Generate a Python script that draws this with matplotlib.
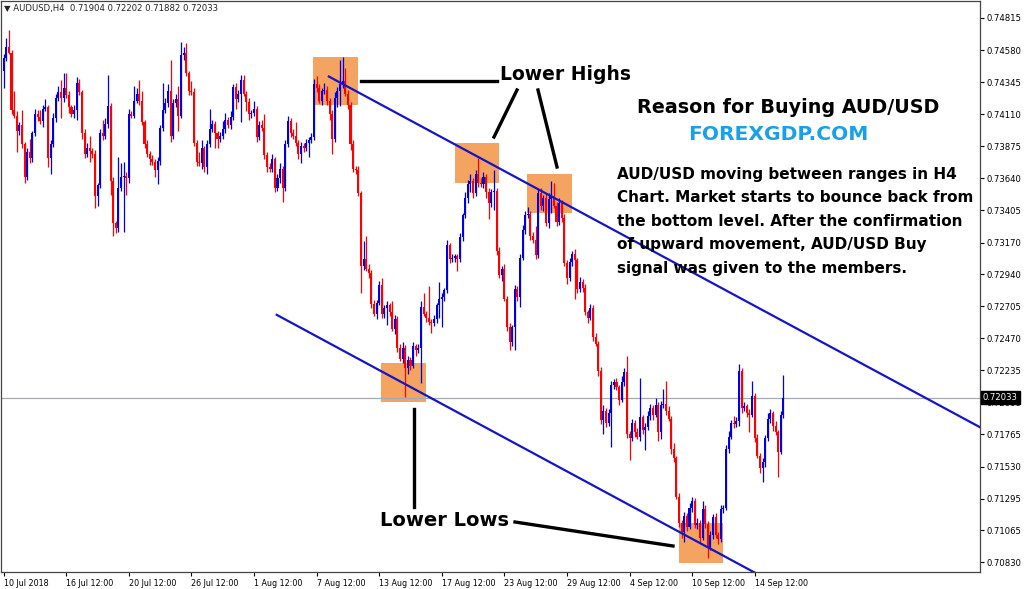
import numpy as np
import matplotlib.pyplot as plt
from matplotlib.lines import Line2D
from matplotlib.patches import Rectangle

plt.rcParams['font.family'] = 'DejaVu Sans'

# AUDUSD H4 candles (close prices, first open)
first_open = 0.7443
closes = [
    0.7452, 0.7460, 0.7456, 0.7414, 0.7410, 0.7399, 0.7403, 0.7389, 0.7365, 0.7383,
    0.7379, 0.7397, 0.7411, 0.7409, 0.7406, 0.7415, 0.7416, 0.7379, 0.7389, 0.7408,
    0.7423, 0.7427, 0.7423, 0.7430, 0.7425, 0.7416, 0.7411, 0.7414, 0.7434, 0.7427,
    0.7397, 0.7382, 0.7386, 0.7384, 0.7382, 0.7351, 0.7359, 0.7397, 0.7395, 0.7404,
    0.7417, 0.7362, 0.7331, 0.7328, 0.7357, 0.7365, 0.7366, 0.7364, 0.7411, 0.7410,
    0.7421, 0.7426, 0.7421, 0.7405, 0.7389, 0.7382, 0.7378, 0.7376, 0.7370, 0.7377,
    0.7401, 0.7414, 0.7419, 0.7428, 0.7395, 0.7419, 0.7422, 0.7410, 0.7454, 0.7456,
    0.7441, 0.7428, 0.7427, 0.7390, 0.7376, 0.7375, 0.7386, 0.7372, 0.7389, 0.7400,
    0.7404, 0.7397, 0.7393, 0.7395, 0.7400, 0.7407, 0.7403, 0.7409, 0.7431, 0.7422,
    0.7426, 0.7436, 0.7426, 0.7420, 0.7411, 0.7412, 0.7415, 0.7394, 0.7403, 0.7401,
    0.7381, 0.7372, 0.7371, 0.7378, 0.7357, 0.7364, 0.7371, 0.7357, 0.7389, 0.7406,
    0.7397, 0.7395, 0.7390, 0.7382, 0.7388, 0.7386, 0.7390, 0.7392, 0.7394, 0.7433,
    0.7430, 0.7421, 0.7428, 0.7429, 0.7421, 0.7411, 0.7393, 0.7423, 0.7428, 0.7433,
    0.7435, 0.7426, 0.7418, 0.7389, 0.7371, 0.7370, 0.7353, 0.7300, 0.7305, 0.7298,
    0.7295, 0.7272, 0.7265, 0.7273, 0.7286, 0.7265, 0.7269, 0.7271, 0.7266, 0.7254,
    0.7261, 0.7240, 0.7232, 0.7240, 0.7225, 0.7231, 0.7227, 0.7241, 0.7238, 0.7240,
    0.7270, 0.7265, 0.7262, 0.7259, 0.7258, 0.7261, 0.7271, 0.7276, 0.7277, 0.7282,
    0.7315, 0.7305, 0.7306, 0.7307, 0.7305, 0.7321, 0.7337, 0.7350, 0.7360, 0.7362,
    0.7353, 0.7367, 0.7361, 0.7360, 0.7365, 0.7354, 0.7346, 0.7354, 0.7355, 0.7311,
    0.7293, 0.7298, 0.7276, 0.7255, 0.7244, 0.7255, 0.7283, 0.7277, 0.7306, 0.7326,
    0.7337, 0.7338, 0.7322, 0.7319, 0.7308, 0.7353, 0.7344, 0.7350, 0.7331, 0.7349,
    0.7351, 0.7344, 0.7332, 0.7346, 0.7335, 0.7302, 0.7291, 0.7303, 0.7309, 0.7304,
    0.7283, 0.7288, 0.7284, 0.7266, 0.7262, 0.7269, 0.7248, 0.7243, 0.7223, 0.7187,
    0.7194, 0.7185, 0.7192, 0.7213, 0.7215, 0.7211, 0.7202, 0.7215, 0.7222, 0.7177,
    0.7174, 0.7185, 0.7178, 0.7175, 0.7189, 0.7180, 0.7182, 0.7190, 0.7196, 0.7191,
    0.7198, 0.7178, 0.7198, 0.7199, 0.7194, 0.7188, 0.7166, 0.7159, 0.7131, 0.7112,
    0.7105, 0.7117, 0.7109, 0.7123, 0.7128, 0.7110, 0.7112, 0.7101, 0.7122, 0.7111,
    0.7094, 0.7103, 0.7116, 0.7103, 0.7100, 0.7122, 0.7123, 0.7166, 0.7175, 0.7185,
    0.7184, 0.7186, 0.7223, 0.7196, 0.7197, 0.7192, 0.7191, 0.7205, 0.7174, 0.7161,
    0.7152, 0.7156, 0.7174, 0.7188, 0.7192, 0.7183, 0.7178, 0.7164, 0.71904, 0.72033,
]
# wick lengths in pips above / below the candle body
upper_wick = [
    3, 7, 13, 2, 14, 3, 2, 11, 2, 3, 10, 2, 4, 3, 5, 3, 6, 2, 3, 4,
    3, 5, 9, 11, 11, 3, 2, 4, 4, 3, 2, 3, 4, 9, 2, 3, 2, 3, 10, 4,
    23, 2, 3, 2, 23, 10, 10, 3, 4, 2, 11, 4, 10, 7, 2, 3, 2, 3, 2, 3,
    2, 20, 4, 5, 23, 3, 4, 10, 10, 4, 7, 2, 7, 3, 2, 7, 6, 2, 3, 15,
    3, 2, 2, 3, 6, 5, 2, 4, 2, 3, 3, 4, 4, 2, 3, 2, 6, 2, 3, 4,
    10, 2, 3, 4, 2, 3, 4, 2, 3, 4, 2, 3, 10, 2, 3, 2, 3, 2, 3, 4,
    6, 3, 2, 5, 3, 2, 3, 4, 3, 18, 18, 10, 3, 2, 3, 2, 3, 2, 13, 17,
    3, 2, 3, 2, 3, 5, 2, 3, 2, 8, 3, 2, 3, 4, 2, 3, 2, 3, 2, 3,
    4, 10, 2, 23, 2, 3, 2, 12, 3, 2, 4, 2, 3, 2, 2, 3, 2, 4, 3, 5,
    2, 3, 12, 3, 4, 2, 3, 2, 15, 2, 3, 2, 3, 2, 3, 2, 3, 2, 3, 4,
    3, 5, 2, 3, 10, 3, 4, 2, 3, 4, 11, 10, 3, 4, 2, 3, 2, 3, 2, 3,
    2, 4, 2, 3, 2, 3, 2, 3, 2, 3, 4, 2, 3, 3, 2, 3, 2, 4, 3, 12,
    2, 3, 2, 3, 29, 2, 3, 4, 3, 2, 5, 2, 3, 11, 17, 3, 2, 4, 2, 3,
    2, 3, 2, 3, 3, 2, 3, 2, 6, 3, 2, 3, 2, 3, 2, 3, 2, 3, 4, 2,
    5, 3, 5, 2, 3, 2, 3, 11, 2, 3, 2, 3, 2, 4, 3, 2, 3, 2, 3, 17,
]
lower_wick = [
    13, 2, 1, 3, 2, 16, 3, 3, 4, 2, 4, 3, 2, 3, 2, 4, 2, 7, 12, 2,
    3, 2, 15, 3, 2, 4, 2, 3, 7, 2, 4, 3, 2, 8, 3, 9, 7, 2, 3, 2,
    3, 10, 9, 4, 3, 2, 40, 12, 3, 2, 2, 2, 3, 2, 3, 2, 4, 2, 5, 10,
    3, 2, 2, 3, 4, 2, 3, 11, 2, 3, 2, 3, 2, 2, 3, 2, 4, 3, 5, 2,
    2, 11, 7, 2, 2, 3, 2, 3, 2, 7, 2, 21, 2, 7, 4, 3, 2, 3, 2, 2,
    3, 3, 2, 2, 3, 2, 3, 10, 2, 2, 3, 2, 2, 4, 7, 3, 2, 10, 2, 2,
    3, 2, 3, 2, 3, 4, 11, 2, 7, 11, 3, 2, 3, 4, 2, 3, 2, 20, 3, 2,
    4, 3, 2, 4, 2, 3, 3, 12, 3, 2, 4, 3, 2, 3, 21, 4, 3, 2, 4, 2,
    26, 2, 3, 2, 7, 2, 3, 9, 21, 3, 2, 3, 2, 3, 9, 2, 3, 2, 4, 6,
    3, 2, 3, 2, 3, 4, 12, 3, 13, 3, 2, 4, 2, 3, 6, 3, 17, 3, 7, 2,
    3, 2, 3, 2, 3, 2, 3, 4, 2, 3, 10, 2, 3, 2, 3, 2, 4, 2, 3, 28,
    3, 2, 3, 2, 4, 2, 3, 2, 4, 3, 10, 3, 2, 25, 3, 2, 4, 2, 3, 3,
    16, 2, 3, 2, 3, 3, 15, 2, 3, 4, 2, 6, 5, 2, 3, 2, 4, 3, 2, 3,
    4, 7, 3, 2, 3, 2, 3, 4, 2, 3, 8, 2, 3, 2, 4, 2, 3, 2, 3, 2,
    3, 2, 3, 4, 2, 3, 13, 2, 3, 2, 4, 10, 3, 2, 3, 4, 2, 19, 2, 2,
]

price_ticks = ['0.74815', '0.74580', '0.74345', '0.74110', '0.73875', '0.73640',
               '0.73405', '0.73170', '0.72940', '0.72705', '0.72470', '0.72235',
               '0.72000', '0.71765', '0.71530', '0.71295', '0.71065', '0.70830']
date_ticks = [0, 24, 48, 72, 96, 120, 144, 168, 192, 216, 240, 264, 288]
date_labels = ['10 Jul 2018', '16 Jul 12:00', '20 Jul 12:00', '26 Jul 12:00',
               '1 Aug 12:00', '7 Aug 12:00', '13 Aug 12:00', '17 Aug 12:00',
               '23 Aug 12:00', '29 Aug 12:00', '4 Sep 12:00', '10 Sep 12:00',
               '14 Sep 12:00']
last_price = 0.72033

# highlighted zones (bar index from/to, price low/high)
zones = [(118.8, 135.9, 0.74179, 0.74530),
         (172.9, 189.9, 0.73606, 0.73896),
         (200.8, 218.0, 0.73384, 0.73672),
         (144.8, 161.8, 0.72003, 0.72289),
         (258.9, 275.9, 0.70826, 0.71118)]
# channel lines (bar index, price)
upper_channel = ([124.7, 374.4], [0.74386, 0.71818])
lower_channel = ([104.7, 290.0], [0.72641, 0.70733])

closes = np.array(closes)
opens = np.r_[first_open, closes[:-1]]
highs = np.maximum(opens, closes) + np.array(upper_wick) * 0.0001
lows = np.minimum(opens, closes) - np.array(lower_wick) * 0.0001
x = np.arange(len(closes))
up = closes >= opens
colors = np.where(up, '#0000E6', '#FF0000')

W, H = 1024, 589
fig = plt.figure(figsize=(W / 100, H / 100), dpi=100)
ax = fig.add_axes([1 / W, 17 / H, 979 / W, 571 / H])

for z in zones:
    ax.add_patch(Rectangle((z[0], z[2]), z[1] - z[0], z[3] - z[2],
                           facecolor='#F4A460', edgecolor='none', zorder=1))

ax.vlines(x, lows, highs, colors=colors, lw=0.9, zorder=3)
ax.bar(x, np.maximum(np.abs(closes - opens), 0.00002), bottom=np.minimum(opens, closes),
       width=0.78, color=colors, zorder=3)

ax.plot(*upper_channel, color='#1414C8', lw=1.6, zorder=4)
ax.plot(*lower_channel, color='#1414C8', lw=1.6, zorder=4)
ax.axhline(last_price, color='#A2AAB4', lw=0.9, zorder=2)

ax.set_xlim(-1.03, 374.4)
ax.set_ylim(0.70758, 0.74939)

ax.yaxis.tick_right()
ax.set_yticks([float(p) for p in price_ticks])
ax.set_yticklabels(price_ticks)
ax.set_xticks(date_ticks)
ax.set_xticklabels(date_labels, ha='left')
ax.tick_params(axis='both', direction='out', length=3, width=0.8,
               colors='black', pad=2)
ax.tick_params(axis='y', labelsize=6.1)
ax.tick_params(axis='x', labelsize=5.8)
for s in ax.spines.values():
    s.set_color('#444444')
    s.set_linewidth(0.9)

ax.text(1.003, last_price, '0.72033', transform=ax.get_yaxis_transform(),
        ha='left', va='center', fontsize=6.1, color='white', zorder=10,
        bbox=dict(boxstyle='square,pad=0.25', facecolor='black', edgecolor='black'),
        clip_on=False)

def fp(px, py):
    return px / W, 1 - py / H

fig.text(*fp(4, 8), '\u25bc AUDUSD,H4  0.71904 0.72202 0.71882 0.72033',
         fontsize=6.1, va='center', ha='left', color='#222222')

# annotation pointers
for (x0, y0), (x1, y1) in [((361, 81), (497, 81)), ((517, 90), (494, 137)),
                           ((538, 90), (557, 167)), ((414, 409), (414, 507)),
                           ((515, 522), (673, 546))]:
    a, b = fp(x0, y0)
    c, d = fp(x1, y1)
    fig.add_artist(Line2D([a, c], [b, d], color='black', lw=2.4, transform=fig.transFigure))

fig.text(*fp(565, 75), 'Lower Highs', fontsize=13.5, fontweight='bold', ha='center', va='center')
fig.text(*fp(444, 520), 'Lower Lows', fontsize=14, fontweight='bold', ha='center', va='center')
fig.text(*fp(788, 107), 'Reason for Buying AUD/USD', fontsize=13.8, fontweight='bold',
         ha='center', va='center')
fig.text(*fp(778, 134), 'FOREXGDP.COM', fontsize=14.6, fontweight='bold', color='#18A0E8',
         ha='center', va='center')
para = ['AUD/USD moving between ranges in H4',
        'Chart. Market starts to bounce back from',
        'the bottom level. After the confirmation',
        'of upward movement, AUD/USD Buy',
        'signal was given to the members.']
for i, line in enumerate(para):
    fig.text(*fp(617, 174 + 23.6 * i), line, fontsize=11, fontweight='bold',
             ha='left', va='center')

fig.savefig('out.png', dpi=100)
